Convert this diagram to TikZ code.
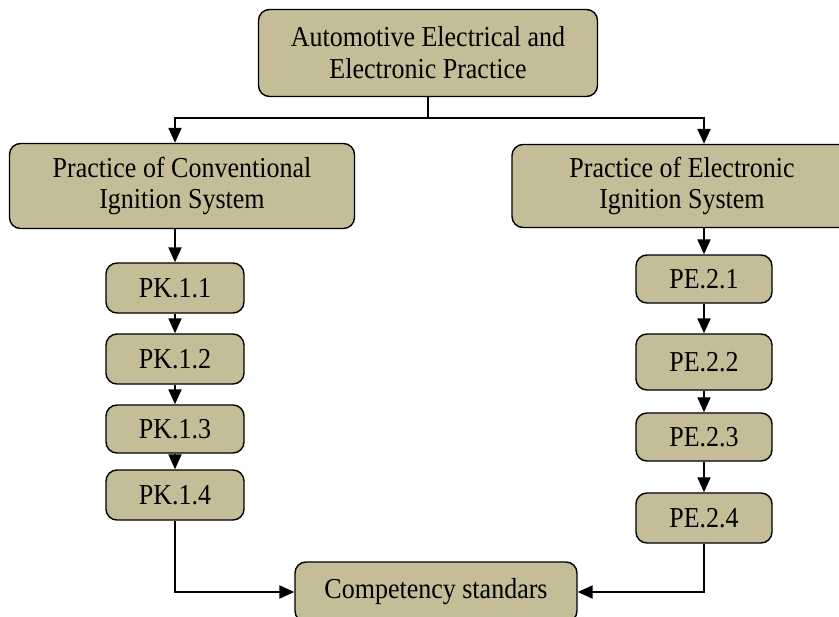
\documentclass[tikz,border=0pt]{standalone}
\usepackage{fontspec}
\setmainfont[FakeStretch=0.9]{Liberation Serif}
\usetikzlibrary{arrows.meta, calc}
\definecolor{boxtan}{RGB}{196,189,151}

\begin{document}
\begin{tikzpicture}
                [x=1bp, y=-1bp,
                bsty/.style={rectangle, rounded corners=11bp, draw=black, fill=boxtan, line width=1.4bp, align=center, inner sep=0pt, font=\fontsize{29}{32}\selectfont},
                asty/.style={-{Triangle[length=15bp, width=13bp]}, line width=2bp}]
                \useasboundingbox (0,0) rectangle (839,617);
                % nodes
                \node[bsty, minimum width=339bp, minimum height=87bp] (top)   at (428,53)  {Automotive Electrical and\\Electronic Practice};
                \node[bsty, minimum width=345bp, minimum height=85bp] (left)  at (182,186) {Practice of Conventional\\Ignition System};
                \node[bsty, minimum width=340bp, minimum height=83bp] (right) at (682,186) {Practice of Electronic\\Ignition System};
                \node[bsty, minimum width=138bp, minimum height=50bp] (pk1) at (175,288) {PK.1.1};
                \node[bsty, minimum width=138bp, minimum height=50bp] (pk2) at (175,359) {PK.1.2};
                \node[bsty, minimum width=138bp, minimum height=48bp] (pk3) at (175,429) {PK.1.3};
                \node[bsty, minimum width=138bp, minimum height=50bp] (pk4) at (175,495) {PK.1.4};
                \node[bsty, minimum width=136bp, minimum height=48bp] (pe1) at (704,279) {PE.2.1};
                \node[bsty, minimum width=136bp, minimum height=56bp] (pe2) at (704,362) {PE.2.2};
                \node[bsty, minimum width=136bp, minimum height=48bp] (pe3) at (704,437) {PE.2.3};
                \node[bsty, minimum width=136bp, minimum height=50bp] (pe4) at (704,518) {PE.2.4};
                \node[bsty, minimum width=282bp, minimum height=60bp] (cs)  at (436,592) {Competency standars};
                % edges
                \draw[asty] (top.south) -- ++(0,21) -| (pk1 |- left.north);
                \draw[asty] (top.south) -- ++(0,21) -| (pe1 |- right.north);
                \draw[asty] (pk1 |- left.south) -- (pk1);
                \draw[asty] (pe1 |- right.south) -- (pe1);
                \draw[asty] (pk1) -- (pk2);
                \draw[asty] (pk2) -- (pk3);
                \draw[asty] (pk3) -- (pk4);
                \draw[asty] (pe1) -- (pe2);
                \draw[asty] (pe2) -- (pe3);
                \draw[asty] (pe3) -- (pe4);
                \draw[asty] (pk4) |- (cs);
                \draw[asty] (pe4) |- (cs);
\end{tikzpicture}
\end{document}
